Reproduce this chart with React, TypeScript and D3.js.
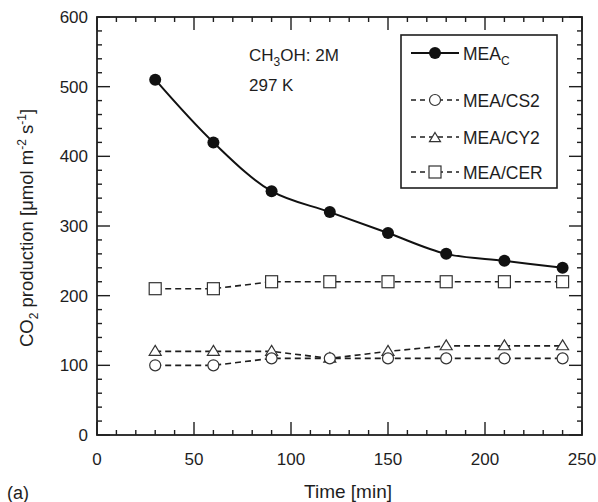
import React from "react";
import * as d3 from "d3";

const times = [30, 60, 90, 120, 150, 180, 210, 240];
const meaC = [510, 420, 350, 320, 290, 260, 250, 240];
const meaCS2 = [100, 100, 110, 110, 110, 110, 110, 110];
const meaCY2 = [120, 120, 120, 110, 120, 128, 128, 128];
const meaCER = [210, 210, 220, 220, 220, 220, 220, 220];
const xTicks = [0, 50, 100, 150, 200, 250];
const yTicks = [0, 100, 200, 300, 400, 500, 600];

const W = 598, H = 502;
const L = 97, R = 582, T = 17, B = 435;

export default function App() {
  const x = d3.scaleLinear().domain([0, 250]).range([L, R]);
  const y = d3.scaleLinear().domain([0, 600]).range([B, T]);
  const font = "'Liberation Sans', Arial, Helvetica, sans-serif";

  const lineSmooth = d3.line<number>().x((_, i) => x(times[i])).y((d) => y(d)).curve(d3.curveCatmullRom.alpha(0.5));
  const lineStraight = d3.line<number>().x((_, i) => x(times[i])).y((d) => y(d));

  const xMinor = d3.range(0, 251, 10);
  const yMinor = d3.range(0, 601, 20);
  const MAJ = 13, MIN = 5;

  const tri = (cx: number, cy: number, s = 6) =>
    `M${cx},${cy - s} L${cx + s},${cy + s * 0.65} L${cx - s},${cy + s * 0.65} Z`;

  const legendY = [53, 100, 137, 172];
  const lx0 = 411, lx1 = 459, lm = 435, lt = 463;
  const dash = "6,4";
  const ink = "#1e1e1e";

  return (
    <svg width={W} height={H} style={{ display: "block", position: "absolute", left: 0, top: 0 }} fontFamily={font}>
      <rect x={0} y={0} width={W} height={H} fill="#fff" />
      {xMinor.map((v) => {
        const len = v % 50 === 0 ? MAJ : MIN;
        return (
          <g key={"xt" + v} stroke={ink} strokeWidth={1.4}>
            <line x1={x(v)} x2={x(v)} y1={B} y2={B - len} />
            <line x1={x(v)} x2={x(v)} y1={T} y2={T + len} />
          </g>
        );
      })}
      {yMinor.map((v) => {
        const len = v % 100 === 0 ? MAJ : MIN;
        return (
          <g key={"yt" + v} stroke={ink} strokeWidth={1.4}>
            <line x1={L} x2={L + len} y1={y(v)} y2={y(v)} />
            <line x1={R} x2={R - len} y1={y(v)} y2={y(v)} />
          </g>
        );
      })}
      <rect x={L} y={T} width={R - L} height={B - T} fill="none" stroke={ink} strokeWidth={1.8} />
      {xTicks.map((v) => (
        <text key={"xl" + v} x={x(v)} y={465} textAnchor="middle" fontSize={17} fill={ink}>{v}</text>
      ))}
      {yTicks.map((v) => (
        <text key={"yl" + v} x={88} y={y(v) + 6} textAnchor="end" fontSize={17} fill={ink}>{v}</text>
      ))}
      <text x={348} y={498} textAnchor="middle" fontSize={19} fill={ink}>Time [min]</text>
      <text x={7} y={499} fontSize={18} fill={ink}>(a)</text>
      <text transform={`translate(33,${(T + B) / 2 + 2}) rotate(-90)`} textAnchor="middle" fontSize={18.5} fill={ink}>
        CO<tspan dy={5} fontSize={12}>2</tspan><tspan dy={-5}> production [μmol m</tspan>
        <tspan dy={-7} fontSize={12}>-2</tspan><tspan dy={7}> s</tspan>
        <tspan dy={-7} fontSize={12}>-1</tspan><tspan dy={7}>]</tspan>
      </text>
      <text x={249} y={61} fontSize={17} fill={ink}>
        CH<tspan dy={5} fontSize={12}>3</tspan><tspan dy={-5}>OH: 2M</tspan>
      </text>
      <text x={249} y={91} fontSize={17} fill={ink}>297 K</text>
      <path d={lineStraight(meaCER) || ""} fill="none" stroke={ink} strokeWidth={1.6} strokeDasharray={dash} />
      <path d={lineStraight(meaCY2) || ""} fill="none" stroke={ink} strokeWidth={1.6} strokeDasharray={dash} />
      <path d={lineStraight(meaCS2) || ""} fill="none" stroke={ink} strokeWidth={1.6} strokeDasharray={dash} />
      <path d={lineSmooth(meaC) || ""} fill="none" stroke="#111" strokeWidth={2} />
      {meaCER.map((v, i) => (
        <rect key={"s" + i} x={x(times[i]) - 6} y={y(v) - 6} width={12} height={12} fill="#fff" stroke="#333" strokeWidth={1.2} />
      ))}
      {meaCY2.map((v, i) => (
        <path key={"t" + i} d={tri(x(times[i]), y(v))} fill="#fff" stroke="#333" strokeWidth={1.2} />
      ))}
      {meaCS2.map((v, i) => (
        <circle key={"c" + i} cx={x(times[i])} cy={y(v)} r={5.5} fill="#fff" stroke="#333" strokeWidth={1.2} />
      ))}
      {meaC.map((v, i) => (
        <circle key={"f" + i} cx={x(times[i])} cy={y(v)} r={6} fill="#111" />
      ))}
      <rect x={401} y={35} width={156} height={153} fill="#fff" stroke={ink} strokeWidth={1.6} />
      <line x1={lx0} x2={lx1} y1={legendY[0]} y2={legendY[0]} stroke="#111" strokeWidth={2} />
      <circle cx={lm} cy={legendY[0]} r={6} fill="#111" />
      <text x={lt} y={legendY[0] + 7} fontSize={17.5} fill={ink}>MEA<tspan dy={5} fontSize={12}>C</tspan></text>
      {[1, 2, 3].map((k) => (
        <line key={"ll" + k} x1={lx0} x2={lx1} y1={legendY[k]} y2={legendY[k]} stroke={ink} strokeWidth={1.6} strokeDasharray="5,4" />
      ))}
      <circle cx={lm} cy={legendY[1]} r={5.5} fill="#fff" stroke="#333" strokeWidth={1.2} />
      <path d={tri(lm, legendY[2] + 1, 5.5)} fill="#fff" stroke="#333" strokeWidth={1.2} />
      <rect x={lm - 6} y={legendY[3] - 6} width={12} height={12} fill="#fff" stroke="#333" strokeWidth={1.2} />
      <text x={lt} y={legendY[1] + 7} fontSize={17.5} fill={ink}>MEA/CS2</text>
      <text x={lt} y={legendY[2] + 7} fontSize={17.5} fill={ink}>MEA/CY2</text>
      <text x={lt} y={legendY[3] + 7} fontSize={17.5} fill={ink}>MEA/CER</text>
    </svg>
  );
}
